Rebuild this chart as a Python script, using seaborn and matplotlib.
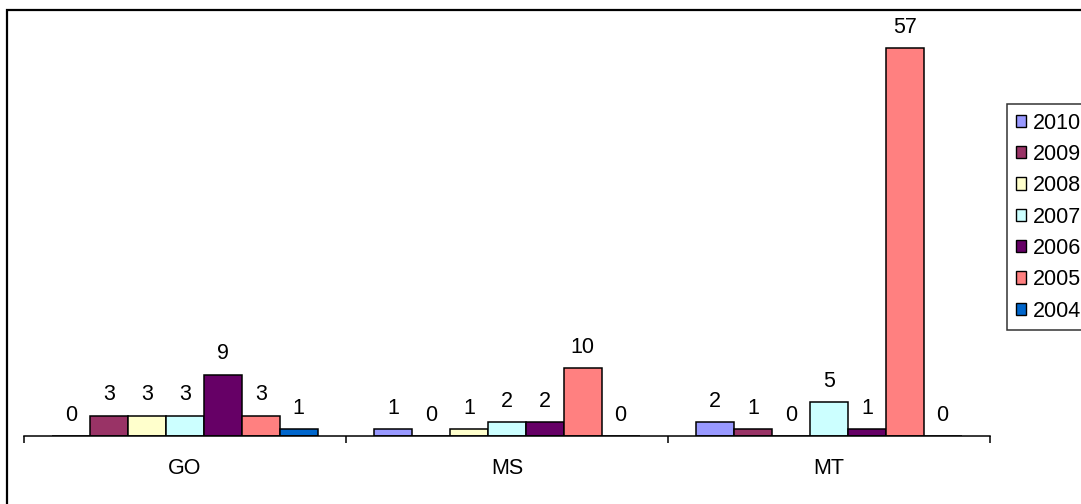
import pandas as pd
import matplotlib
matplotlib.use("Agg")
import matplotlib.pyplot as plt
import seaborn as sns
from matplotlib.patches import Rectangle

# Datos
estados = ["GO", "MS", "MT"]
anos = ["2010", "2009", "2008", "2007", "2006", "2005", "2004"]
v2010 = [0, 1, 2]
v2009 = [3, 0, 1]
v2008 = [3, 1, 0]
v2007 = [3, 2, 5]
v2006 = [9, 2, 1]
v2005 = [3, 10, 57]
v2004 = [1, 0, 0]
cores = ["#9999FF", "#993366", "#FFFFCC", "#CCFFFF", "#660066", "#FF8080", "#0066CC"]

series = [v2010, v2009, v2008, v2007, v2006, v2005, v2004]
linhas = []
for ano, vals in zip(anos, series):
    for est, v in zip(estados, vals):
        linhas.append({"Estado": est, "Ano": ano, "Valor": v})
df = pd.DataFrame(linhas)

sns.set_style("white")
plt.rcParams['font.family'] = ['Liberation Sans', 'DejaVu Sans']
plt.rcParams['text.color'] = 'black'
plt.rcParams['xtick.color'] = 'black'
plt.rcParams['xtick.labelcolor'] = 'black'
fs = 15.5

fig = plt.figure(figsize=(10.81, 5.04), dpi=100)
ax = fig.add_axes([24 / 1081, 68 / 504, 966 / 1081, 408 / 504])

sns.barplot(data=df, x="Estado", y="Valor", hue="Ano", order=estados, hue_order=anos,
            palette=cores, saturation=1, width=7 / 8.5, gap=0,
            edgecolor="black", linewidth=1.1, ax=ax)

for cont in ax.containers:
    ax.bar_label(cont, padding=7.5, fontsize=fs, color="black")

ax.set_xlim(-0.5, 2.5)
ax.set_ylim(0, 60)
ax.set_xlabel("")
ax.set_ylabel("")
ax.set_yticks([])
for s in ["left", "top", "right"]:
    ax.spines[s].set_visible(False)
ax.spines["bottom"].set_color("black")
ax.spines["bottom"].set_linewidth(1.1)

# marcas entre grupos, rótulos no centro
ax.set_xticks([-0.5, 0.5, 1.5, 2.5])
ax.set_xticklabels([])
ax.tick_params(axis="x", which="major", direction="out", length=5, width=1.1,
               color="black", bottom=True)
ax.set_xticks([0, 1, 2], minor=True)
ax.set_xticklabels(estados, minor=True, fontsize=fs, color="black")
ax.tick_params(axis="x", which="minor", length=0, pad=16)

leg = ax.legend(loc="upper left", bbox_to_anchor=(1007 / 1081, 1 - 104 / 504),
                bbox_transform=fig.transFigure, borderaxespad=0, frameon=True,
                fancybox=False, edgecolor="black", fontsize=fs,
                handlelength=0.5, handleheight=0.5, handletextpad=0.3,
                labelspacing=0.48, borderpad=0.4, title=None, labelcolor="black")
leg.get_frame().set_linewidth(1.1)
for h in leg.legend_handles:
    h.set_edgecolor("black")
    h.set_linewidth(1.0)

# borde del gráfico
fig.patches.append(Rectangle((7 / 1081, -0.1), 1.2, 1.1 - 10 / 504, transform=fig.transFigure,
                             fill=False, edgecolor="black", linewidth=1.6))

fig.savefig("out.png", dpi=100)
